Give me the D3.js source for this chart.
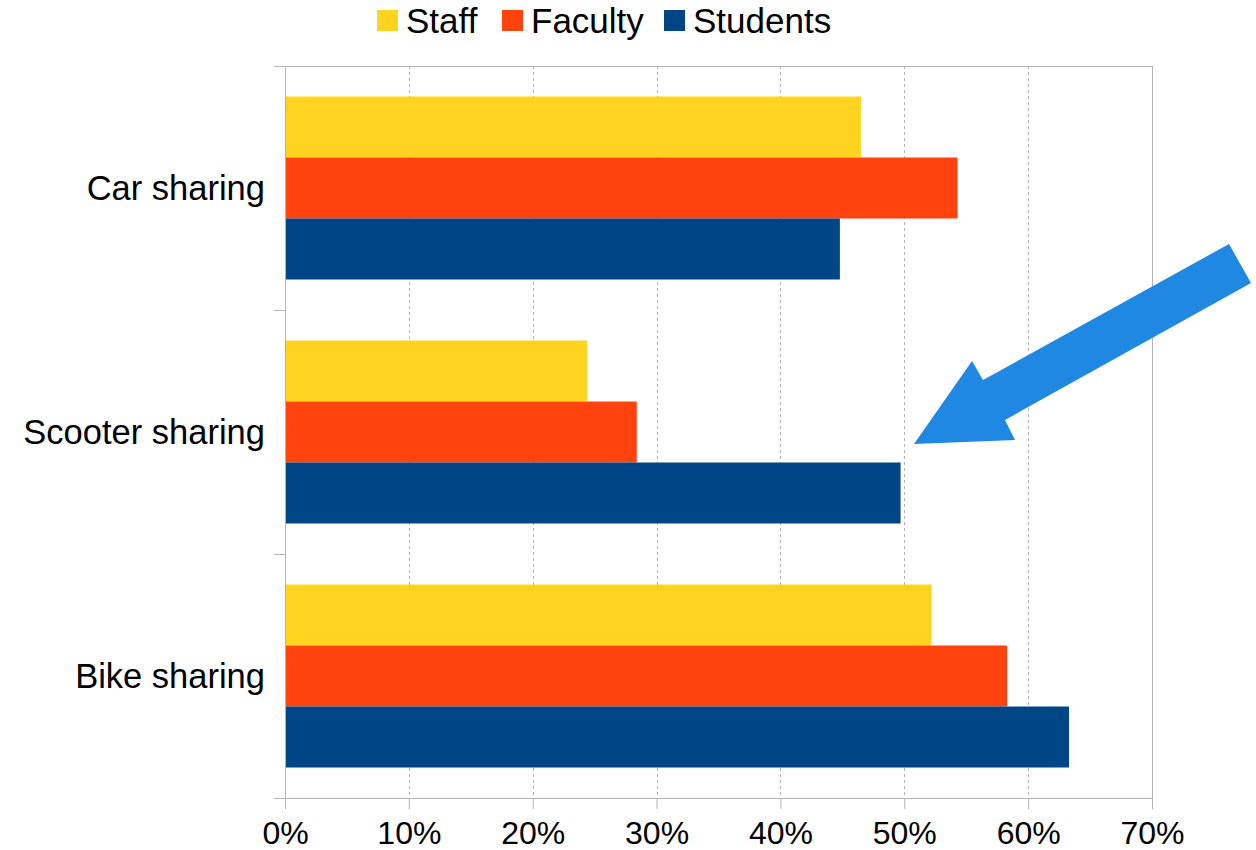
<!DOCTYPE html>
<html>
<head>
<meta charset="utf-8">
<script src="https://cdn.jsdelivr.net/npm/d3@7/dist/d3.min.js"></script>
<style>
  html, body { margin: 0; padding: 0; background: #fff; }
  svg { display: block; font-family: "Liberation Sans", Arial, sans-serif; }
</style>
</head>
<body>
<svg id="chart" width="1256" height="850"></svg>
<script>
// Share of respondents interested in each shared-mobility mode
const categories = ["Car sharing", "Scooter sharing", "Bike sharing"];
const seriesNames = ["Staff", "Faculty", "Students"];
const staffValues = [46.5, 24.4, 52.2];
const facultyValues = [54.3, 28.4, 58.3];
const studentValues = [44.8, 49.7, 63.3];
const xTicks = [0, 10, 20, 30, 40, 50, 60, 70];
const seriesColors = ["#ffd320", "#ff420e", "#004586"];

const series = [staffValues, facultyValues, studentValues];

const svg = d3.select("#chart");
const margin = { left: 285, right: 104, top: 66, bottom: 52 };
const W = 1256, H = 850;
const plotW = W - margin.left - margin.right;
const plotH = H - margin.top - margin.bottom;

const x = d3.scaleLinear().domain([0, 70]).range([0, plotW]);
const y = d3.scaleBand().domain(categories).range([0, plotH]).padding(0);
const yInner = d3.scaleBand().domain(seriesNames).range([0, y.bandwidth()])
  .paddingInner(0).paddingOuter(0.5);

const g = svg.append("g").attr("transform", `translate(${margin.left},${margin.top})`);

// Dashed vertical gridlines
g.append("g").selectAll("line").data(xTicks.slice(1, -1)).join("line")
  .attr("x1", d => Math.round(x(d)) + 0.5).attr("x2", d => Math.round(x(d)) + 0.5)
  .attr("y1", 0).attr("y2", plotH)
  .attr("stroke", "#b3b3b3").attr("stroke-width", 1).attr("stroke-dasharray", "3,3");

// Frame: top and right edges
g.append("line").attr("x1", -11).attr("x2", plotW).attr("y1", 0.5).attr("y2", 0.5)
  .attr("stroke", "#b3b3b3");
g.append("line").attr("x1", plotW + 0.5).attr("x2", plotW + 0.5).attr("y1", 0).attr("y2", plotH)
  .attr("stroke", "#b3b3b3");

// Bars
categories.forEach((cat, ci) => {
  seriesNames.forEach((s, si) => {
    g.append("rect")
      .attr("x", 0)
      .attr("y", y(cat) + yInner(s))
      .attr("width", x(series[si][ci]))
      .attr("height", yInner.bandwidth())
      .attr("fill", seriesColors[si]);
  });
});

// Y axis (category boundaries as ticks)
const yAxis = g.append("g");
yAxis.append("line").attr("x1", 0.5).attr("x2", 0.5).attr("y1", 0).attr("y2", plotH + 11)
  .attr("stroke", "#b3b3b3");
const bounds = categories.map(c => y(c)).concat([plotH]);
yAxis.selectAll("line.tk").data(bounds).join("line").attr("class", "tk")
  .attr("x1", -11).attr("x2", 0).attr("y1", d => Math.round(d) + 0.5).attr("y2", d => Math.round(d) + 0.5)
  .attr("stroke", "#b3b3b3");
yAxis.selectAll("text").data(categories).join("text")
  .attr("x", -20).attr("y", d => y(d) + y.bandwidth() / 2)
  .attr("dy", "0.35em").attr("text-anchor", "end")
  .attr("font-size", 34.5).attr("fill", "#000").text(d => d);

// X axis
const xAxis = g.append("g").attr("transform", `translate(0,${plotH})`)
  .call(d3.axisBottom(x).tickValues(xTicks).tickSize(11).tickPadding(12).tickFormat(d => d + "%"));
xAxis.select(".domain").attr("stroke", "#b3b3b3").attr("d", `M-11,0.5H${plotW}`);
xAxis.selectAll(".tick line").attr("stroke", "#b3b3b3");
xAxis.selectAll(".tick text").attr("font-size", 32).attr("fill", "#000")
  .attr("font-family", "Liberation Sans, Arial, sans-serif");

// Legend
const legendX = [377, 502, 664];
const legend = svg.append("g");
seriesNames.forEach((s, i) => {
  legend.append("rect").attr("x", legendX[i]).attr("y", 10).attr("width", 21).attr("height", 21)
    .attr("fill", seriesColors[i]);
  legend.append("text").attr("x", legendX[i] + 29).attr("y", 21).attr("dy", "0.35em")
    .attr("font-size", 35).attr("fill", "#000").text(s);
});

// Callout arrow pointing at the scooter-sharing students bar
const arrowPts = [[1229, 244], [1251, 283], [1005, 420], [1015, 440], [914, 444], [972, 361], [983, 380]];
svg.append("polygon").attr("points", arrowPts.map(p => p.join(",")).join(" "))
  .attr("fill", "#1f88e2");
</script>
</body>
</html>
